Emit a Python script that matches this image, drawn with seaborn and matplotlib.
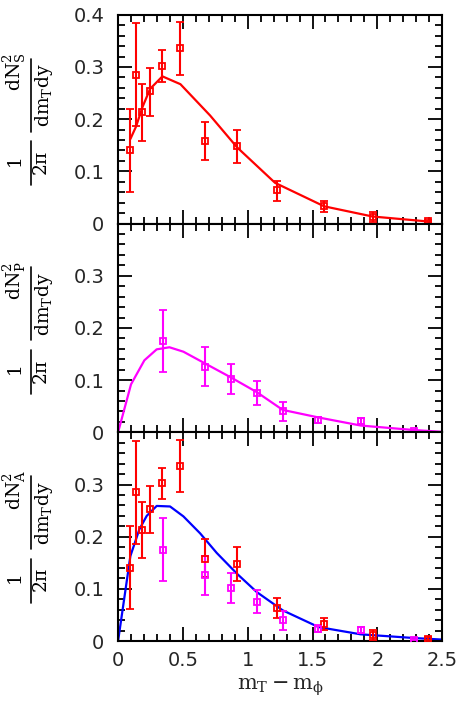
import matplotlib
matplotlib.use("Agg")
import matplotlib.pyplot as plt
from matplotlib.ticker import MultipleLocator, FixedLocator
import seaborn as sns

# data points
red_x = [0.095, 0.139, 0.188, 0.247, 0.342, 0.481, 0.674, 0.918, 1.227, 1.590, 1.963, 2.39]
red_y = [0.141, 0.285, 0.213, 0.253, 0.302, 0.336, 0.158, 0.148, 0.064, 0.033, 0.012, 0.005]
red_lo = [0.061, 0.186, 0.159, 0.207, 0.272, 0.285, 0.122, 0.116, 0.044, 0.022, 0.003, 0.003]
red_hi = [0.220, 0.384, 0.267, 0.298, 0.332, 0.386, 0.195, 0.180, 0.082, 0.044, 0.022, 0.007]

mag_x = [0.345, 0.671, 0.872, 1.070, 1.270, 1.546, 1.873, 2.28]
mag_y = [0.175, 0.126, 0.102, 0.075, 0.040, 0.023, 0.022, 0.003]
mag_lo = [0.116, 0.089, 0.074, 0.053, 0.021, 0.017, 0.016, 0.002]
mag_hi = [0.235, 0.164, 0.131, 0.098, 0.058, 0.030, 0.028, 0.004]

# model curves
s_cx = [0.095, 0.139, 0.188, 0.247, 0.342, 0.481, 0.71, 0.918, 1.211, 1.59, 1.963, 2.39]
s_cy = [0.162, 0.186, 0.223, 0.258, 0.282, 0.267, 0.207, 0.146, 0.078, 0.033, 0.0135, 0.004]

p_cx = [0.0, 0.1, 0.203, 0.298, 0.396, 0.504, 0.671, 0.872, 1.07, 1.27, 1.546, 1.873, 2.28, 2.5]
p_cy = [0.0, 0.092, 0.138, 0.159, 0.163, 0.1545, 0.132, 0.105, 0.077, 0.043, 0.0285, 0.013, 0.0045, 0.001]

a_cx = [0.0, 0.095, 0.164, 0.221, 0.298, 0.401, 0.504, 0.633, 0.761, 0.918, 1.07, 1.27, 1.546, 1.873, 2.28, 2.5]
a_cy = [0.0, 0.163, 0.214, 0.240, 0.259, 0.258, 0.239, 0.2065, 0.169, 0.129, 0.094, 0.059, 0.027, 0.013, 0.006, 0.003]

panel_subs = ["S", "P", "A"]
ytick_top = ["0", "0.1", "0.2", "0.3", "0.4"]
ytick_rest = ["0", "0.1", "0.2", "0.3", ""]

sns.set_theme(style="ticks")
plt.rcParams["font.family"] = ["DejaVu Sans"]
plt.rcParams["mathtext.fontset"] = "dejavuserif"

RED = "#ff0000"
MAG = "#ff00ff"
BLUE = "#0000ff"


def draw_points(ax, x, y, lo, hi, color):
    yerr = [[v - l for v, l in zip(y, lo)], [h - v for v, h in zip(y, hi)]]
    ax.errorbar(x, y, yerr=yerr, fmt="s", ms=5, mfc="none", mec=color, mew=1.3,
                ecolor=color, elinewidth=1.5, capsize=3, capthick=1.5, color=color,
                zorder=3)


def frac_label(ax, sub):
    # rotated stacked label: 1/(2pi) * dN^2_X/(dm_T dy)
    kw = dict(transform=ax.transAxes, rotation=90, ha="center", va="center",
              rotation_mode="anchor", fontsize=13.5, color="black", clip_on=False)
    ax.text(-0.318, 0.725, r"$\mathrm{dN^2_%s}$" % sub, **kw)
    ax.text(-0.228, 0.615, r"$\mathrm{dm_T dy}$", **kw)
    ax.plot([-0.2685, -0.2685], [0.44, 0.79], transform=ax.transAxes, color="black",
            lw=1.2, clip_on=False)
    ax.text(-0.312, 0.29, r"$\mathrm{1}$", **kw)
    ax.text(-0.237, 0.29, r"$\mathrm{2\pi}$", **kw)
    ax.plot([-0.2685, -0.2685], [0.185, 0.395], transform=ax.transAxes, color="black",
            lw=1.2, clip_on=False)


fig, axes = plt.subplots(3, 1, figsize=(4.63, 7.03), dpi=100, sharex=True)
fig.subplots_adjust(left=0.255, right=0.955, bottom=0.088, top=0.979, hspace=0)

# top: S
ax = axes[0]
sns.lineplot(x=s_cx, y=s_cy, ax=ax, color=RED, lw=1.6, sort=False, zorder=2)
draw_points(ax, red_x, red_y, red_lo, red_hi, RED)

# middle: P
ax = axes[1]
sns.lineplot(x=p_cx, y=p_cy, ax=ax, color=MAG, lw=1.6, sort=False, zorder=2)
draw_points(ax, mag_x, mag_y, mag_lo, mag_hi, MAG)

# bottom: A
ax = axes[2]
sns.lineplot(x=a_cx, y=a_cy, ax=ax, color=BLUE, lw=1.6, sort=False, zorder=2)
draw_points(ax, red_x, red_y, red_lo, red_hi, RED)
draw_points(ax, mag_x, mag_y, mag_lo, mag_hi, MAG)

for i, ax in enumerate(axes):
    ax.set_xlim(0, 2.5)
    ax.set_ylim(0, 0.4)
    ax.yaxis.set_major_locator(FixedLocator([0, 0.1, 0.2, 0.3, 0.4]))
    ax.set_yticklabels(ytick_top if i == 0 else ytick_rest)
    ax.yaxis.set_minor_locator(MultipleLocator(0.02))
    ax.xaxis.set_major_locator(MultipleLocator(0.5))
    ax.xaxis.set_minor_locator(MultipleLocator(0.1))
    ax.tick_params(which="both", direction="in", top=True, right=True, width=1.3,
                   color="black", labelsize=14)
    ax.tick_params(which="major", length=10)
    ax.tick_params(which="minor", length=5)
    ax.tick_params(axis="y", pad=10)
    ax.tick_params(axis="x", pad=7)
    for sp in ax.spines.values():
        sp.set_linewidth(1.5)
        sp.set_color("black")
    ax.set_ylabel("")
    frac_label(ax, panel_subs[i])

axes[2].xaxis.set_major_formatter(matplotlib.ticker.FuncFormatter(
    lambda v, p: f"{v:g}"))
axes[2].set_xlabel(r"$\mathrm{m_T - m_\phi}$", fontsize=15, labelpad=5)

fig.savefig("out.png", dpi=100)
